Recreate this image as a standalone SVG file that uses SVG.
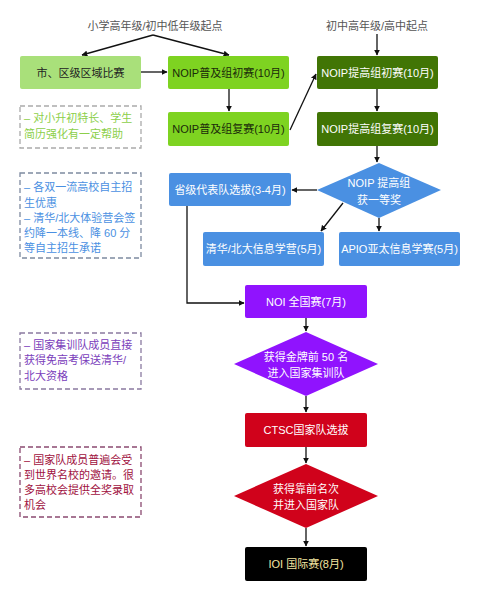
<svg xmlns="http://www.w3.org/2000/svg" width="480" height="600" viewBox="0 0 480 600">
<defs>
<marker id="ah" viewBox="0 0 10 10" refX="9" refY="5" markerWidth="6" markerHeight="6" orient="auto" markerUnits="userSpaceOnUse"><path d="M0,0 L10,5 L0,10 z" fill="#111"/></marker>
<style>
text{font-family:"Liberation Sans","Noto Sans CJK SC",sans-serif;font-size:11px;}
.c{text-anchor:middle;dominant-baseline:central;}
.w{fill:#fff;}
.ln{stroke:#111;stroke-width:1.3;fill:none;marker-end:url(#ah);}
.note{fill:#fff;stroke-width:1.3;stroke-dasharray:5 3;}
.top{fill:#555;}
</style>
</defs>
<rect width="480" height="600" fill="#fff"/>
<text class="c top" x="155" y="26">小学高年级/初中低年级起点</text>
<text class="c top" x="377" y="26">初中高年级/高中起点</text>
<g id="connectors">
<path class="ln" d="M153,35 L82,55"/>
<path class="ln" d="M153,35 L229,55"/>
<path class="ln" d="M377,34 L377,55"/>
<path class="ln" d="M141,72 L167,72"/>
<path class="ln" d="M229,89 L229,111"/>
<path class="ln" d="M290,130 L316,74"/>
<path class="ln" d="M377,89 L377,111"/>
<path class="ln" d="M377,146 L377,162"/>
<path class="ln" d="M317,190 L292,190"/>
<path class="ln" d="M343,203 L321,231"/>
<path class="ln" d="M379,218 L379,231"/>
<path class="ln" d="M187,206 L187,303 L244,303"/>
<path class="ln" d="M306,318 L306,331"/>
<path class="ln" d="M306,396 L306,412"/>
<path class="ln" d="M306,447 L306,463"/>
<path class="ln" d="M306,528 L306,546"/>
</g>
<g id="n1"><rect x="20" y="56" width="121" height="33" rx="2" fill="#a9e07a"/><text class="c" x="80.5" y="72.5" fill="#222">市、区级区域比赛</text></g>
<g id="n2"><rect x="168" y="56" width="121" height="33" rx="2" fill="#7ed321"/><text class="c" x="228.5" y="72.5" fill="#1a2a0a">NOIP普及组初赛(10月)</text></g>
<g id="n3"><rect x="168" y="112" width="121" height="34" rx="2" fill="#7ed321"/><text class="c" x="228.5" y="129" fill="#1a2a0a">NOIP普及组复赛(10月)</text></g>
<g id="n4"><rect x="317" y="56" width="121" height="33" rx="2" fill="#417505"/><text class="c w" x="377.5" y="72.5">NOIP提高组初赛(10月)</text></g>
<g id="n5"><rect x="317" y="112" width="121" height="34" rx="2" fill="#417505"/><text class="c w" x="377.5" y="129">NOIP提高组复赛(10月)</text></g>
<g id="d1"><polygon points="379,163 441,190 379,218 317,190" fill="#4a90e2"/><text class="c w" x="379" y="183">NOIP 提高组</text><text class="c w" x="379" y="200">获一等奖</text></g>
<g id="n6"><rect x="169" y="173" width="122" height="33" rx="2" fill="#4a90e2"/><text class="c w" x="230" y="189.5">省级代表队选拔(3-4月)</text></g>
<g id="n7"><rect x="203" y="232" width="121" height="34" rx="2" fill="#4a90e2"/><text class="c w" x="263.5" y="249">清华/北大信息学营(5月)</text></g>
<g id="n8"><rect x="339" y="232" width="121" height="34" rx="2" fill="#4a90e2"/><text class="c w" x="399.5" y="249">APIO亚太信息学赛(5月)</text></g>
<g id="n9"><rect x="245" y="285" width="122" height="33" rx="2" fill="#9013fe"/><text class="c w" x="306" y="301.5">NOI 全国赛(7月)</text></g>
<g id="d2"><polygon points="306,332 378,364 306,396 234,364" fill="#9013fe"/><text class="c w" x="306" y="357">获得金牌前 50 名</text><text class="c w" x="306" y="373">进入国家集训队</text></g>
<g id="n10"><rect x="245" y="413" width="122" height="34" rx="2" fill="#d0021b"/><text class="c w" x="306" y="430">CTSC国家队选拔</text></g>
<g id="d3"><polygon points="306,464 378,496 306,528 234,496" fill="#d0021b"/><text class="c w" x="306" y="489">获得靠前名次</text><text class="c w" x="306" y="505">并进入国家队</text></g>
<g id="n11"><rect x="245" y="547" width="122" height="34" rx="2" fill="#000"/><text class="c" x="306" y="564" fill="#f3e6a0">IOI 国际赛(8月)</text></g>
<g id="note1"><rect class="note" x="20" y="106" width="121" height="42" stroke="#aaa"/><text x="24" y="122" fill="#8ccf4a">– 对小升初特长、学生</text><text x="24" y="138" fill="#8ccf4a">简历强化有一定帮助</text></g>
<g id="note2"><rect class="note" x="20" y="173" width="121" height="85" stroke="#7d8aa0"/><text fill="#4a90e2"><tspan x="24" y="191">– 各双一流高校自主招</tspan><tspan x="24" y="207">生优惠</tspan><tspan x="24" y="222">– 清华/北大体验营会签</tspan><tspan x="24" y="237">约降一本线、降 60 分</tspan><tspan x="24" y="252">等自主招生承诺</tspan></text></g>
<g id="note3"><rect class="note" x="20" y="333" width="121" height="56" stroke="#8a7aa0"/><text fill="#7a3dbb"><tspan x="24" y="349">– 国家集训队成员直接</tspan><tspan x="24" y="364">获得免高考保送清华/</tspan><tspan x="24" y="380">北大资格</tspan></text></g>
<g id="note4"><rect class="note" x="20" y="447" width="121" height="70" stroke="#8a4a70"/><text fill="#a01040"><tspan x="24" y="464">– 国家队成员普遍会受</tspan><tspan x="24" y="479">到世界名校的邀请。很</tspan><tspan x="24" y="494">多高校会提供全奖录取</tspan><tspan x="24" y="509">机会</tspan></text></g>
</svg>
